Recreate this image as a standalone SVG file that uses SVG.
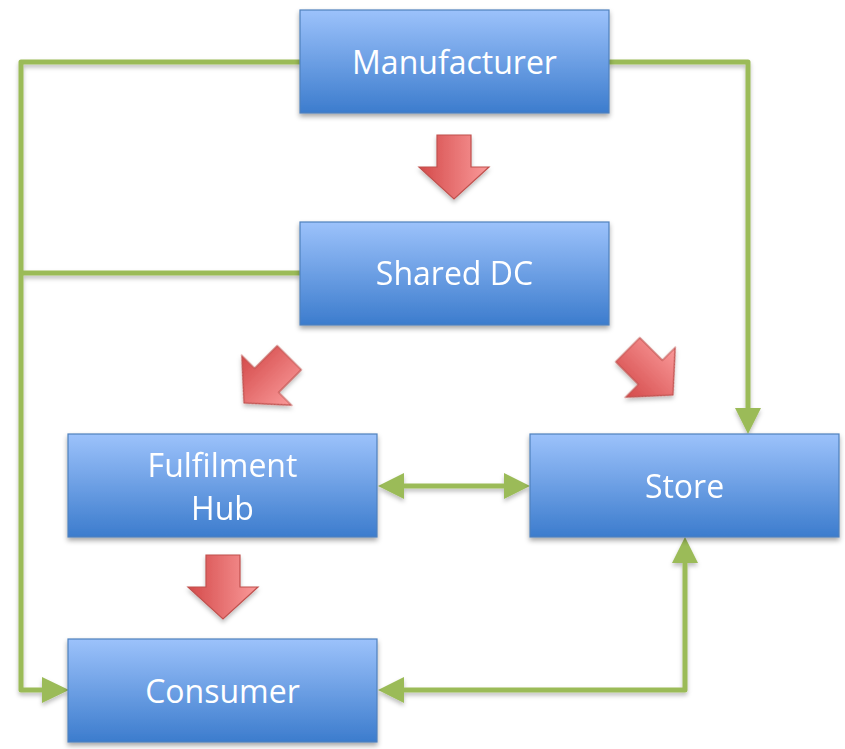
<svg xmlns="http://www.w3.org/2000/svg" width="845" height="749" viewBox="0 0 845 749">
<defs>
  <linearGradient id="gBlue" x1="0" y1="0" x2="0" y2="1">
    <stop offset="0" stop-color="#9cc2fb"/>
    <stop offset="1" stop-color="#3c7ccd"/>
  </linearGradient>
  <linearGradient id="gRed" x1="0" y1="0" x2="1" y2="0">
    <stop offset="0" stop-color="#d44a4a"/>
    <stop offset="1" stop-color="#fa9a9a"/>
  </linearGradient>
  <filter id="sh" x="-10%" y="-10%" width="125%" height="135%">
    <feDropShadow dx="0" dy="3" stdDeviation="2.5" flood-color="#000" flood-opacity="0.35"/>
  </filter>
  <filter id="shl" filterUnits="userSpaceOnUse" x="0" y="0" width="845" height="749">
    <feDropShadow dx="0" dy="3" stdDeviation="2" flood-color="#000" flood-opacity="0.25"/>
  </filter>
  <polygon id="redArrow" points="-17,-64 17,-64 17,-32 35,-32 0,0 -35,-32 -17,-32" fill="url(#gRed)" stroke="#c0504d" stroke-width="1.2" stroke-linejoin="miter"/>
</defs>
<style>
  .box { fill: url(#gBlue); stroke: #4f81bd; stroke-width: 1.2; filter: url(#sh); }
  .lbl { font-family: "Open Sans", "Liberation Sans", sans-serif; font-size: 32px; fill: #ffffff; text-anchor: middle; }
  .conn { fill: none; stroke: #9bbb59; stroke-width: 5; stroke-linejoin: round; }
  .head { fill: #9bbb59; }
</style>

<g id="connectors" filter="url(#shl)">
  <path class="conn" d="M300,62 H21 V690 H42" />
  <polygon class="head" points="42,677 69,690 42,703"/>
  <path class="conn" d="M300,273 H21" />
  <path class="conn" d="M609,62 H748 V408" />
  <polygon class="head" points="735,408 748,434 761,408"/>
  <path class="conn" d="M404,486 H504" />
  <polygon class="head" points="404,473 378,486 404,499"/>
  <polygon class="head" points="504,473 530,486 504,499"/>
  <path class="conn" d="M404,690 H685 V563" />
  <polygon class="head" points="404,677 378,690 404,703"/>
  <polygon class="head" points="672,563 685,537 698,563"/>
</g>

<g id="flow-arrows" filter="url(#shl)">
  <use href="#redArrow" transform="translate(454,199)"/>
  <use href="#redArrow" transform="translate(244,403) rotate(45)"/>
  <use href="#redArrow" transform="translate(673,395) rotate(-45)"/>
  <use href="#redArrow" transform="translate(223,619)"/>
</g>

<g id="manufacturer">
  <rect class="box" x="300" y="10" width="309" height="103"/>
  <text class="lbl" x="454.5" y="74">Manufacturer</text>
</g>
<g id="shared-dc">
  <rect class="box" x="300" y="222" width="309" height="103"/>
  <text class="lbl" x="454.5" y="285">Shared DC</text>
</g>
<g id="fulfilment-hub">
  <rect class="box" x="68" y="434" width="309" height="103"/>
  <text class="lbl" x="222.5" y="477">Fulfilment</text>
  <text class="lbl" x="222.5" y="520">Hub</text>
</g>
<g id="store">
  <rect class="box" x="530" y="434" width="309" height="103"/>
  <text class="lbl" x="684.5" y="498">Store</text>
</g>
<g id="consumer">
  <rect class="box" x="68" y="639" width="309" height="103"/>
  <text class="lbl" x="222.5" y="703">Consumer</text>
</g>
</svg>
